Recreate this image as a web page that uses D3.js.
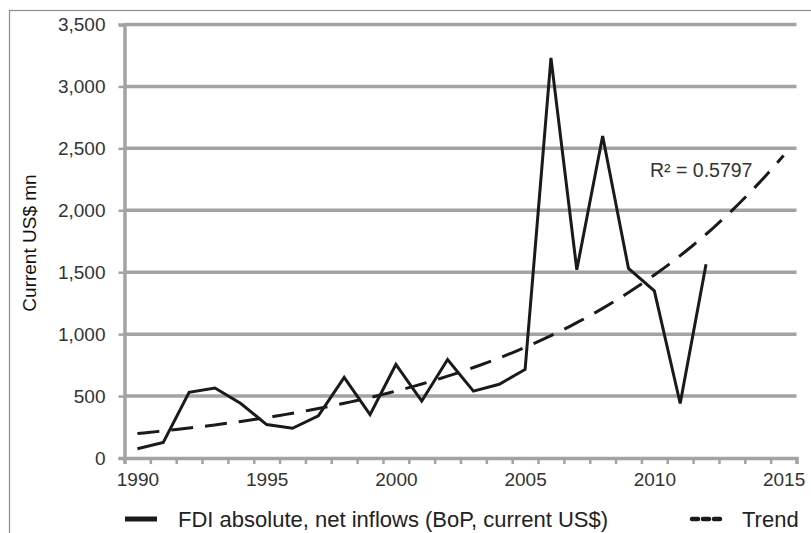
<!DOCTYPE html>
<html><head><meta charset="utf-8">
<script src="https://cdn.jsdelivr.net/npm/d3@7"></script>
<style>body{margin:0;background:#fff}svg{display:block}text{font-family:"Liberation Sans",Arial,sans-serif}</style>
</head><body>
<svg id="c" width="811" height="533"></svg>
<script>
const years = [1990,1991,1992,1993,1994,1995,1996,1997,1998,1999,2000,2001,2002,2003,2004,2005,2006,2007,2008,2009,2010,2011,2012];
const fdi = [75,125,530,565,440,270,240,340,650,350,755,460,795,540,595,715,3230,1520,2600,1530,1350,440,1565];
const yTicks = [0,500,1000,1500,2000,2500,3000,3500];
const xTicks = [1990,1995,2000,2005,2010,2015];
const trendEnd = 2015;
const r2Label = "R\u00b2 = 0.5797";
const seriesName = "FDI absolute, net inflows (BoP, current US$)";
const trendName = "Trend";
const yTitle = "Current US$ mn";

const svg = d3.select("#c");
svg.append("rect").attr("x",9.5).attr("y",10.5).attr("width",820).attr("height",540)
  .attr("fill","none").attr("stroke","#8c8c8c").attr("stroke-width",1.2);

// years occupy slots between tick marks (date axis, values centred in slot)
const x = d3.scaleLinear().domain([1989.5,2015.5]).range([124.5,796.5]);
const y = d3.scaleLinear().domain([0,3500]).range([458,24.5]);
const grey = "#a3a3a3";

// gridlines
svg.append("g").selectAll("line").data(yTicks.filter(d=>d>0)).join("line")
  .attr("x1",x(1989.5)).attr("x2",x(2015.5)).attr("y1",d=>y(d)).attr("y2",d=>y(d))
  .attr("stroke",grey).attr("stroke-width",3.5);

// y axis
const ya = svg.append("g").attr("transform",`translate(${x(1989.5)},0)`)
  .call(d3.axisLeft(y).tickValues(yTicks).tickFormat(d3.format(",")).tickSize(6).tickPadding(13));
ya.select(".domain").attr("stroke",grey).attr("stroke-width",3.5);
ya.selectAll(".tick line").attr("stroke",grey).attr("stroke-width",2.5);
ya.selectAll("text").attr("font-size",19).attr("fill","#333");

// x axis: tick marks at slot boundaries
const xa = svg.append("g").attr("transform",`translate(0,${y(0)})`)
  .call(d3.axisBottom(x).tickValues(d3.range(1989.5,2016,1)).tickFormat("").tickSize(6));
xa.select(".domain").attr("stroke",grey).attr("stroke-width",3.5);
xa.selectAll(".tick line").attr("stroke",grey).attr("stroke-width",2.5);
// x labels centred in slots
const xl = svg.append("g").attr("transform",`translate(0,${y(0)})`)
  .call(d3.axisBottom(x).tickValues(xTicks).tickFormat(d3.format("d")).tickSize(0).tickPadding(15));
xl.select(".domain").remove();
xl.selectAll("text").attr("font-size",19).attr("fill","#333");

// exponential trend (least squares on ln y, as spreadsheet trendline)
const lx = years.map(d=>d-1990), ly = fdi.map(v=>Math.log(v));
const mx = d3.mean(lx), my = d3.mean(ly);
const b = d3.sum(lx.map((t,i)=>(t-mx)*(ly[i]-my)))/d3.sum(lx.map(t=>(t-mx)*(t-mx)));
const a = my - b*mx;
const tPts = d3.range(1990, trendEnd+0.001, 0.25).map(t=>[t, Math.exp(a+b*(t-1990))]);
svg.append("path").datum(tPts)
  .attr("d", d3.line().x(d=>x(d[0])).y(d=>y(d[1])))
  .attr("fill","none").attr("stroke","#1a1a1a").attr("stroke-width",3)
  .attr("stroke-dasharray","22,12");

// data line
svg.append("path").datum(years.map((yr,i)=>[yr,fdi[i]]))
  .attr("d", d3.line().x(d=>x(d[0])).y(d=>y(d[1])))
  .attr("fill","none").attr("stroke","#1a1a1a").attr("stroke-width",3).attr("stroke-linejoin","miter");

svg.append("text").attr("x",650).attr("y",177).attr("font-size",19.5).attr("fill","#333").text(r2Label);

// y title
svg.append("text").attr("transform","translate(36,243) rotate(-90)").attr("text-anchor","middle")
  .attr("font-size",19).attr("fill","#111").text(yTitle);

// legend
svg.append("line").attr("x1",125).attr("x2",157).attr("y1",519).attr("y2",519).attr("stroke","#1a1a1a").attr("stroke-width",5);
svg.append("text").attr("x",178).attr("y",527).attr("font-size",22).attr("fill","#222").text(seriesName);
svg.append("line").attr("x1",692).attr("x2",720).attr("y1",519).attr("y2",519).attr("stroke","#1a1a1a").attr("stroke-width",4.5)
  .attr("stroke-linecap","round").attr("stroke-dasharray","6,5");
svg.append("text").attr("x",742).attr("y",527).attr("font-size",22).attr("fill","#222").text(trendName);
</script>
</body></html>
